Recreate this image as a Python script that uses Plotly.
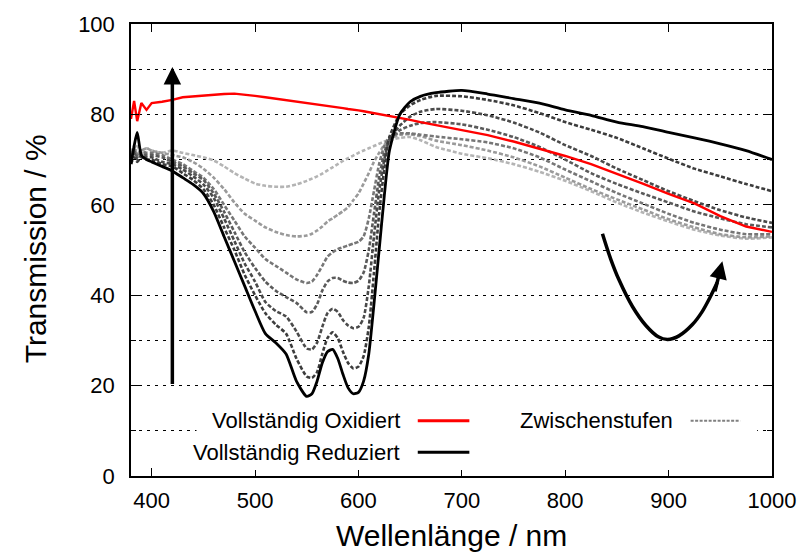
import plotly.graph_objects as go

# ---------------- data ----------------
wavelength = [380, 383, 386, 390, 395, 400, 410, 420, 430, 440, 450, 460, 470, 480, 490,
              500, 510, 520, 530, 540, 550, 555, 560, 565, 570, 575, 580, 585, 590, 595,
              600, 605, 610, 615, 620, 625, 630, 640, 650, 660, 675, 700, 725, 750, 775,
              800, 825, 850, 875, 900, 925, 950, 975, 1000]

oxidiert = [79.0, 83.0, 78.5, 82.5, 81.0, 82.5, 82.8, 83.2, 83.8, 84.0, 84.2, 84.4, 84.5, 84.6, 84.4,
            84.1, 83.8, 83.5, 83.2, 82.9, 82.6, 82.4, 82.2, 82.1, 81.9, 81.7, 81.6, 81.4, 81.2, 81.1,
            80.9, 80.7, 80.5, 80.3, 80.1, 79.9, 79.7, 79.3, 78.8, 78.3, 77.6, 76.6, 75.4, 74.0, 72.4,
            70.8, 69.0, 66.9, 64.7, 62.4, 60.3, 57.5, 55.2, 54.0]

reduziert = [69.0, 73.0, 76.0, 71.0, 70.0, 69.5, 68.5, 67.5, 66.0, 64.5, 62.5, 58.5, 53.0, 47.5, 42.0,
             36.5, 31.5, 29.5, 27.0, 21.0, 17.6, 18.2, 21.0, 25.0, 27.5, 28.0, 26.0, 22.5, 19.5, 18.2,
             18.5, 21.0, 27.0, 38.0, 50.0, 62.0, 72.0, 80.0, 82.8, 84.0, 84.8, 85.3, 84.5, 83.5, 82.5,
             81.0, 79.8, 78.3, 77.3, 76.0, 74.8, 73.5, 72.0, 70.0]

stufe_1 = [69.0, 70.5, 69.5, 70.5, 70.0, 70.0, 69.0, 68.5, 67.0, 65.5, 63.5, 60.0, 55.0, 50.0, 44.5,
           40.0, 36.0, 33.5, 31.5, 26.0, 22.0, 21.7, 23.0, 27.0, 30.5, 31.8, 30.5, 27.5, 25.0, 23.8,
           24.2, 26.5, 33.0, 45.0, 58.0, 68.0, 75.0, 80.0, 82.0, 83.2, 84.1, 84.0, 83.2, 82.0, 80.3,
           78.3, 76.6, 74.8, 72.5, 70.2, 68.0, 66.3, 64.6, 63.0]

stufe_2 = [70.0, 71.5, 70.0, 71.0, 70.5, 70.5, 69.5, 69.0, 67.8, 66.3, 64.5, 61.5, 57.0, 52.0, 47.0,
           43.0, 38.5, 36.5, 35.3, 32.0, 28.2, 28.0, 29.5, 33.0, 36.0, 37.0, 36.3, 34.5, 33.3, 32.7,
           33.0, 35.0, 42.0, 53.0, 63.0, 70.0, 74.5, 77.5, 79.5, 80.6, 81.2, 80.8, 79.8, 78.2, 76.0,
           73.2, 70.8, 68.0, 65.5, 63.0, 60.8, 58.8, 57.2, 56.0]

stufe_3 = [70.5, 72.0, 70.5, 71.5, 71.0, 71.0, 70.5, 69.5, 68.5, 67.0, 65.5, 62.5, 58.5, 54.0, 49.5,
           46.0, 43.0, 41.0, 39.6, 38.3, 36.2, 36.3, 38.0, 41.0, 43.0, 43.8, 43.8, 43.2, 42.8, 42.7,
           43.2, 45.0, 50.0, 58.0, 66.0, 71.5, 74.5, 76.5, 77.5, 78.1, 78.3, 77.8, 76.6, 75.0, 72.8,
           70.0, 67.0, 64.6, 62.5, 60.5, 58.5, 57.0, 55.7, 55.0]

stufe_4 = [71.0, 72.5, 71.0, 72.0, 71.5, 71.5, 71.0, 70.0, 69.0, 67.5, 66.0, 63.5, 60.0, 56.5, 53.0,
           50.5, 48.0, 46.5, 45.0, 43.5, 42.7, 43.0, 44.5, 46.5, 48.5, 49.5, 50.2, 50.6, 51.0, 51.4,
           51.8, 53.0, 57.0, 63.0, 69.0, 73.0, 75.0, 75.8, 75.8, 75.5, 75.1, 74.5, 73.8, 72.5, 70.5,
           67.8, 65.2, 62.6, 60.3, 58.0, 56.0, 54.5, 53.5, 53.5]

stufe_5 = [71.5, 73.0, 71.0, 72.0, 72.5, 72.0, 71.5, 71.0, 70.5, 69.5, 68.0, 66.0, 63.5, 60.5, 58.0,
           56.5, 55.0, 54.0, 53.3, 53.0, 53.2, 53.6, 54.3, 55.2, 56.3, 57.0, 57.8, 58.6, 59.5, 61.0,
           62.5, 64.7, 67.0, 69.5, 71.5, 73.2, 74.5, 75.5, 75.6, 75.2, 74.2, 73.2, 72.0, 70.5, 68.5,
           66.0, 63.5, 61.2, 59.0, 56.8, 55.0, 53.5, 52.8, 53.0]

stufe_6 = [72.0, 70.5, 73.0, 71.0, 72.5, 72.0, 71.5, 72.0, 71.5, 71.0, 70.5, 69.8, 68.5, 67.0, 65.8,
           64.7, 64.2, 64.0, 64.0, 64.5, 65.3, 65.8, 66.3, 66.9, 67.6, 68.3, 69.0, 69.7, 70.3, 70.9,
           71.5, 72.0, 72.5, 73.0, 73.5, 74.0, 74.3, 74.8, 75.0, 74.3, 72.8, 71.3, 70.3, 69.0, 67.3,
           65.3, 63.0, 60.5, 58.3, 56.3, 54.5, 53.2, 52.5, 52.8]

intermediates = [stufe_1, stufe_2, stufe_3, stufe_4, stufe_5, stufe_6]
intermediate_colors = ["#3c3c3c", "#4a4a4a", "#5a5a5a", "#767676", "#9a9a9a", "#b4b4b4"]

x_ticks = [400, 500, 600, 700, 800, 900, 1000]
y_ticks = [0, 20, 40, 60, 80, 100]

# curved arrow path (annotation geometry)
curve_arrow_wl = [836, 844, 852, 865, 878, 890, 899, 910, 923, 932, 940, 947]
curve_arrow_t = [53.6, 48.0, 43.4, 37.5, 33.3, 30.8, 30.2, 31.0, 33.5, 36.2, 39.5, 42.8]

legend_labels = ["Vollständig Oxidiert", "Vollständig Reduziert", "Zwischenstufen"]

# ---------------- layout helpers ----------------
W, H = 808, 556
L, R, T, B = 131, 777, 17, 476


def px(xp):
    return (xp - L) / (R - L)


def py(yp):
    return (B - yp) / (B - T)


FONT = "Liberation Sans, Arial, sans-serif"

fig = go.Figure()

# intermediate (dashed) curves - lightest first so darker ones sit on top
for vals, col in reversed(list(zip(intermediates, intermediate_colors))):
    fig.add_trace(go.Scatter(x=wavelength, y=vals, mode="lines",
                             line=dict(color=col, width=2.6, dash="4px,2px", shape="spline", smoothing=0.6),
                             showlegend=False, hoverinfo="skip"))

fig.add_trace(go.Scatter(x=wavelength, y=oxidiert, mode="lines",
                         line=dict(color="#ff0000", width=2.4),
                         showlegend=False, hoverinfo="skip"))
fig.add_trace(go.Scatter(x=wavelength, y=reduziert, mode="lines",
                         line=dict(color="#000000", width=2.8, shape="spline", smoothing=0.6),
                         showlegend=False, hoverinfo="skip"))

# curved arrow body
fig.add_trace(go.Scatter(x=curve_arrow_wl, y=curve_arrow_t, mode="lines",
                         line=dict(color="#000000", width=3.5, shape="spline", smoothing=1.0),
                         showlegend=False, hoverinfo="skip"))

annotations = [
    # vertical arrow
    dict(x=420, y=90.5, ax=420, ay=20, xref="x", yref="y", axref="x", ayref="y",
         showarrow=True, arrowhead=2, arrowsize=1.0, arrowwidth=3.5, arrowcolor="#000000",
         standoff=0, text=""),
    # curved arrow head
    dict(x=952, y=47.5, ax=944.5, ay=40.5, xref="x", yref="y", axref="x", ayref="y",
         showarrow=True, arrowhead=2, arrowsize=1.0, arrowwidth=3.5, arrowcolor="#000000",
         standoff=0, text=""),
    # legend texts
    dict(x=px(404), y=py(420), xref="paper", yref="paper", xanchor="right", yanchor="middle",
         text=legend_labels[0], showarrow=False, font=dict(family=FONT, size=22, color="#000")),
    dict(x=px(404), y=py(452), xref="paper", yref="paper", xanchor="right", yanchor="middle",
         text=legend_labels[1], showarrow=False, font=dict(family=FONT, size=22, color="#000")),
    dict(x=px(679), y=py(420), xref="paper", yref="paper", xanchor="right", yanchor="middle",
         text=legend_labels[2], showarrow=False, font=dict(family=FONT, size=22, color="#000")),
    # axis titles
    dict(x=0.5, y=py(536), xref="paper", yref="paper", xanchor="center", yanchor="middle",
         text="Wellenlänge / nm", showarrow=False, font=dict(family=FONT, size=30, color="#000")),
    dict(x=px(35), y=py(245), xref="paper", yref="paper", xanchor="center", yanchor="middle",
         text="Transmission / %", textangle=-90, showarrow=False,
         font=dict(family=FONT, size=30, color="#000")),
]

shapes = [
    # legend background
    dict(type="rect", xref="paper", yref="paper", x0=px(197), x1=px(762), y0=py(470), y1=py(400),
         fillcolor="white", line=dict(width=0), layer="above"),
    dict(type="line", xref="paper", yref="paper", x0=px(420), x1=px(472), y0=py(420), y1=py(420),
         line=dict(color="#ff0000", width=3), layer="above"),
    dict(type="line", xref="paper", yref="paper", x0=px(420), x1=px(472), y0=py(452), y1=py(452),
         line=dict(color="#000000", width=3), layer="above"),
    dict(type="line", xref="paper", yref="paper", x0=px(695), x1=px(745), y0=py(420), y1=py(420),
         line=dict(color="#808080", width=2, dash="3px,1.5px"), layer="above"),
]

fig.update_layout(
    width=W, height=H,
    margin=dict(l=L, r=W - R, t=T, b=H - B, pad=0),
    paper_bgcolor="white", plot_bgcolor="white",
    font=dict(family=FONT, color="#000"),
    showlegend=False,
    annotations=annotations,
    shapes=shapes,
    xaxis=dict(range=[380, 1000], tickvals=x_ticks, ticks="inside", ticklen=8, tickwidth=1,
               tickcolor="#000", showline=True, linecolor="#000", linewidth=1.5, mirror="ticks",
               showgrid=False, zeroline=False, tickfont=dict(size=22, family=FONT, color="#000"),
               ticklabelstandoff=4),
    yaxis=dict(range=[0, 100], tickvals=y_ticks, ticks="inside", ticklen=8, tickwidth=1,
               tickcolor="#000", showline=True, linecolor="#000", linewidth=1.5, mirror="ticks",
               showgrid=True, gridcolor="#000", gridwidth=1, griddash="3px,5px",
               zeroline=False, tickfont=dict(size=22, family=FONT, color="#000"),
               ticklabelstandoff=10,
               minor=dict(dtick=10, tick0=0, showgrid=True, gridcolor="#000", gridwidth=1,
                          griddash="3px,5px", ticks="inside", ticklen=5, tickcolor="#000")),
)

fig.write_html("out.html")
